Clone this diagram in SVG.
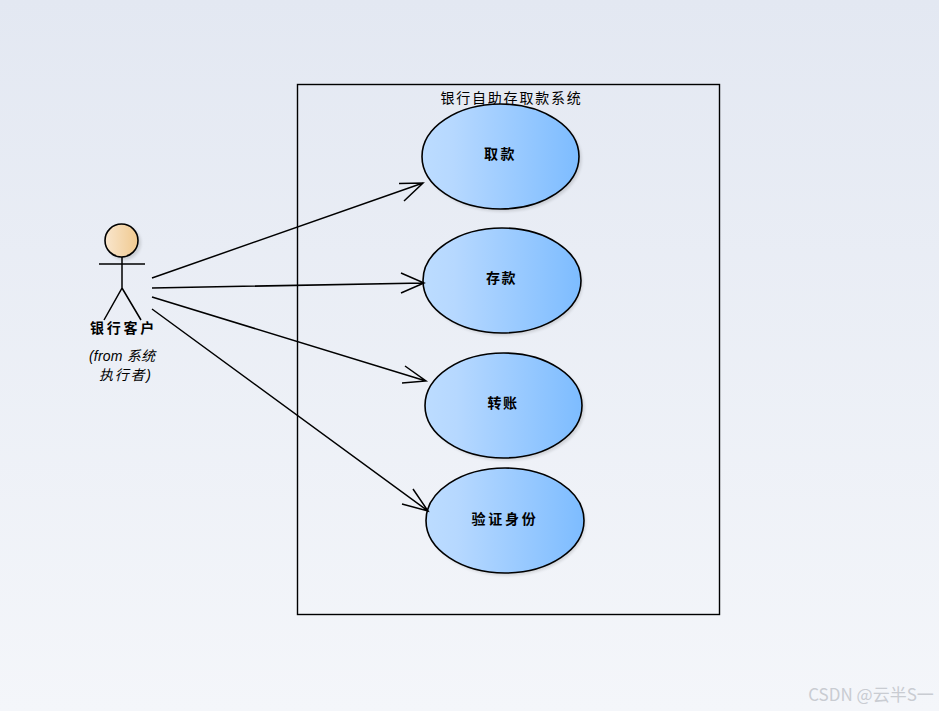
<svg xmlns="http://www.w3.org/2000/svg" width="939" height="711" viewBox="0 0 939 711">
<style>
.l{fill:none;stroke:#000;stroke-width:1.5}
.u{fill:url(#uc);stroke:#000;stroke-width:1.6}
.s{fill:#000;opacity:.13;filter:url(#b)}
.t{font-family:"Noto Sans CJK SC","Liberation Sans",sans-serif;font-size:14px;font-weight:700;text-anchor:middle;fill:#000}
.c{font-family:"Noto Sans CJK SC","Liberation Sans",sans-serif;font-size:14px;text-anchor:middle;fill:#000}
.i{font-family:"Liberation Sans","Noto Sans CJK SC",sans-serif;font-size:14px;font-style:italic;text-anchor:middle;fill:#000}
</style>
<defs>
<linearGradient id="bg" x1="0" y1="0" x2="0" y2="1"><stop offset="0" stop-color="#e3e8f2"/><stop offset="1" stop-color="#f4f6fa"/></linearGradient>
<linearGradient id="uc" x1="0" y1="0" x2="1" y2="0"><stop offset="0" stop-color="#bcdcff"/><stop offset=".2" stop-color="#b6d8ff"/><stop offset="1" stop-color="#7dbcff"/></linearGradient>
<linearGradient id="hd" x1="0" y1="0" x2="1" y2="0"><stop offset="0" stop-color="#f9e6cd"/><stop offset="1" stop-color="#f0c98f"/></linearGradient>
<filter id="b" x="-10%" y="-10%" width="120%" height="120%"><feGaussianBlur stdDeviation="1.5"/></filter>
</defs>
<rect width="939" height="711" fill="url(#bg)"/>
<g id="system">
<rect x="297.500" y="84.500" width="422" height="530" fill="none" stroke="#000" stroke-width="1.400"/>
<text class="c" x="511.500" y="103" letter-spacing="1.800">银行自助存取款系统</text>
</g>
<g id="actor">
<circle cx="124" cy="243" r="17" class="s"/>
<circle cx="121.500" cy="240.500" r="16.500" fill="url(#hd)" stroke="#000" stroke-width="1.600"/>
<path class="l" d="M99 264H145M122 257V288L104 320M122 288L141 320"/>
<text class="t" x="123.500" y="333" letter-spacing="2.700">银行客户</text>
<text class="i" x="122" y="361" textLength="66">(from 系统</text>
<text class="i" x="125" y="380" textLength="52">执行者)</text>
</g>
<g id="uc1">
<ellipse class="s" cx="503" cy="159" rx="78.500" ry="52.500"/>
<ellipse class="u" cx="500.500" cy="156.500" rx="78.500" ry="52.500"/>
<text class="t" x="500.500" y="159" letter-spacing="2.500">取款</text>
</g>
<g id="uc2">
<ellipse class="s" cx="504" cy="283" rx="78.500" ry="52.500"/>
<ellipse class="u" cx="502" cy="280.500" rx="79" ry="52.500"/>
<text class="t" x="501.500" y="283" letter-spacing="1.500">存款</text>
</g>
<g id="uc3">
<ellipse class="s" cx="506" cy="408" rx="78.500" ry="52.500"/>
<ellipse class="u" cx="503.500" cy="405.500" rx="78.500" ry="52.500"/>
<text class="t" x="503" y="408" letter-spacing="1.500">转账</text>
</g>
<g id="uc4">
<ellipse class="s" cx="507" cy="523" rx="78.500" ry="52.500"/>
<ellipse class="u" cx="505" cy="520.500" rx="79" ry="52.500"/>
<text class="t" x="505" y="524" letter-spacing="2.700">验证身份</text>
</g>
<g id="connectors">
<path class="l" d="M152 278L423 183M399 183.500L423 183L404 201"/>
<path class="l" d="M152 288L424 283M401 273L424 283L401 293"/>
<path class="l" d="M152 297L426 381M405 366L426 381L402 383"/>
<path class="l" d="M152 309L428 511M413 489L428 511L402 504"/>
</g>
<text x="871" y="701" font-family="Noto Sans CJK SC,Liberation Sans,sans-serif" font-size="17" text-anchor="middle" fill="#c9ccd2">CSDN @云半S一</text>
</svg>
